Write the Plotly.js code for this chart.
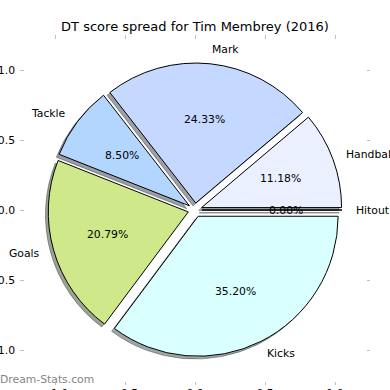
<!DOCTYPE html>
<html>
<head>
<meta charset="utf-8">
<script src="https://cdn.plot.ly/plotly-3.0.1.min.js"></script>
<style>html,body{margin:0;padding:0;background:#fff;}#chart{width:390px;height:390px;}</style>
</head>
<body>
<div id="chart"></div>
<script>
// ---- data ----
var categories = ['Handball', 'Mark', 'Tackle', 'Goals', 'Kicks', 'Hitout'];
var values = [11.18, 24.33, 8.50, 20.79, 35.20, 0.00];
var sliceColors = ['#eaf0ff', '#c5d8ff', '#b3d6ff', '#cfe98a', '#d9ffff', '#e8e8e8'];
var tickValues = [-1.0, -0.5, 0.0, 0.5, 1.0];
var titleText = 'DT score spread for Tim Membrey (2016)';
var watermark = 'Dream-Stats.com';

// ---- style / geometry settings ----
var explode = 0.05, labelDist = 1.1, pctDist = 0.6, axHalf = 1.25, shadowOff = 0.02;
var FONT = 'DejaVu Sans';

var total = values.reduce(function (a, b) { return a + b; }, 0);
var annotations = [];
var start = 0;
values.forEach(function (v, i) {
  var sweep = 360 * v / total;
  var mid = (start + sweep / 2) * Math.PI / 180;
  var cx = explode * Math.cos(mid), cy = explode * Math.sin(mid);
  var lx = cx + labelDist * Math.cos(mid), ly = cy + labelDist * Math.sin(mid);
  var px = cx + pctDist * Math.cos(mid), py = cy + pctDist * Math.sin(mid);
  annotations.push({xref: 'x', yref: 'y', x: lx, y: ly, text: categories[i], showarrow: false,
    xanchor: lx > 0 ? 'left' : 'right', yanchor: 'middle', borderpad: 0, borderwidth: 0,
    font: {family: FONT, size: 10.8, color: '#000'}});
  annotations.push({xref: 'x', yref: 'y', x: px, y: py, text: (100 * v / total).toFixed(2) + '%', showarrow: false,
    xanchor: 'center', yanchor: 'middle', borderpad: 0, borderwidth: 0,
    font: {family: FONT, size: 10.8, color: '#000'}});
  start += sweep;
});
annotations.push({xref: 'paper', yref: 'paper', x: -20 / 350, y: 6 / 350, text: watermark, showarrow: false,
  xanchor: 'left', yanchor: 'middle', borderpad: 0, borderwidth: 0,
  font: {family: FONT, size: 10.8, color: '#858585'}});

function shade(hex) {
  var r = parseInt(hex.substr(1, 2), 16), g = parseInt(hex.substr(3, 2), 16), b = parseInt(hex.substr(5, 2), 16);
  return 'rgba(' + Math.round(0.3 * r) + ',' + Math.round(0.3 * g) + ',' + Math.round(0.3 * b) + ',0.5)';
}
var shadowColors = sliceColors.map(shade);
var half = (1 + explode) / (2 * axHalf);
var dom = [0.5 - half, 0.5 + half];
var sh = shadowOff / (2 * axHalf);
var rotation = 90 - 360 * values[0] / total;
var pulls = values.map(function () { return explode; });

var traces = [
  {type: 'scatter', x: [], y: [], mode: 'markers', hoverinfo: 'skip', showlegend: false},
  {type: 'pie', labels: categories, values: values, sort: false, direction: 'counterclockwise',
   rotation: rotation, pull: pulls, textinfo: 'none', hoverinfo: 'skip', showlegend: false,
   domain: {x: [dom[0] - sh, dom[1] - sh], y: [dom[0] - sh, dom[1] - sh]},
   marker: {colors: shadowColors, line: {color: shadowColors, width: 1}}},
  {type: 'pie', labels: categories, values: values, sort: false, direction: 'counterclockwise',
   rotation: rotation, pull: pulls, textinfo: 'none', hoverinfo: 'skip', showlegend: false,
   domain: {x: dom, y: dom},
   marker: {colors: sliceColors, line: {color: '#000', width: 1}}}
];

var axisCommon = {range: [-axHalf, axHalf], showgrid: false, zeroline: false, showline: false,
  ticks: 'inside', ticklen: 3.5, tickwidth: 1, tickcolor: '#c0c0c0', mirror: 'ticks',
  tickvals: tickValues, tickformat: '.1f', fixedrange: true,
  tickfont: {family: FONT, size: 10.8, color: '#000'}};

var layout = {
  width: 390, height: 390, autosize: false,
  margin: {l: 20, r: 20, t: 35, b: 5, pad: 0},
  paper_bgcolor: '#fff', plot_bgcolor: '#fff', showlegend: false,
  title: {text: titleText, x: 0.5, xref: 'container', xanchor: 'center', y: 1 - 26 / 390, yref: 'container',
    yanchor: 'middle', font: {family: FONT, size: 13, color: '#000'}},
  xaxis: Object.assign({ticklabelstandoff: 0}, axisCommon),
  yaxis: Object.assign({ticklabelstandoff: 4}, axisCommon),
  annotations: annotations
};

Plotly.newPlot('chart', traces, layout, {staticPlot: true, displayModeBar: false});
</script>
</body>
</html>
